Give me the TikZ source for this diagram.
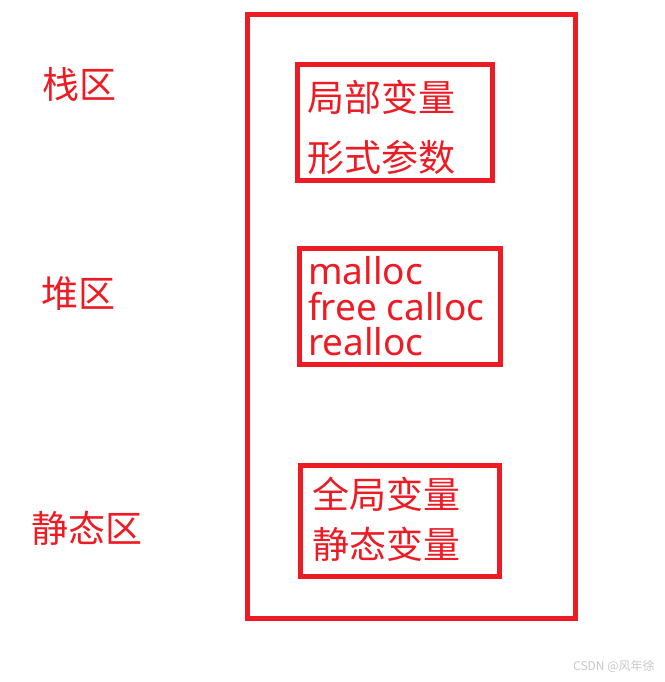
\documentclass[tikz,border=0pt]{standalone}
\usepackage{fontspec}
\setmainfont{Noto Sans}
\newfontfamily\cjk{Noto Sans CJK SC}
\definecolor{pred}{RGB}{237,28,36}
\definecolor{wm}{RGB}{200,200,200}
\begin{document}
\begin{tikzpicture}[x=1pt,y=-1pt,
  frame/.style={draw=pred,line width=5pt},
  cjktxt/.style={anchor=west,inner sep=0pt,text=pred,font=\cjk\fontsize{37}{37}\selectfont},
  lattxt/.style={anchor=base west,inner sep=0pt,text=pred,font=\fontsize{37}{37}\selectfont},
  zone/.style={anchor=west,inner sep=0pt,text=pred,font=\cjk\fontsize{37}{37}\selectfont}]
\useasboundingbox (0,0) rectangle (664,682);
\fill[white] (0,0) rectangle (664,682);
% outer memory block
\draw[frame] (247.5,14.5) rectangle (575.5,618.5);
% stack box
\draw[frame] (297.5,64.5) rectangle (492.5,180.5);
\node[cjktxt] (s1) at (307,97) {局部变量};
\node[cjktxt] (s2) at (307,157) {形式参数};
% heap box
\draw[frame] (299.5,248) rectangle (500,364);
\node[lattxt] (h1) at (308,284.5) {malloc};
\node[lattxt] (h2) at (308,320) {free calloc};
\node[lattxt] (h3) at (308,355.5) {realloc};
% static box
\draw[frame] (300.5,465.5) rectangle (499,576);
\node[cjktxt] (g1) at (312,494) {全局变量};
\node[cjktxt] (g2) at (312,544) {静态变量};
% zone labels
\node[zone] (z1) at (42,84) {栈区};
\node[zone] (z2) at (41,294) {堆区};
\node[zone] (z3) at (31,528) {静态区};
% watermark
\node[anchor=west,inner sep=0pt,text=wm,font=\cjk\fontsize{12}{12}\selectfont] (wmk) at (573,666) {CSDN @风年徐};
\end{tikzpicture}
\end{document}
